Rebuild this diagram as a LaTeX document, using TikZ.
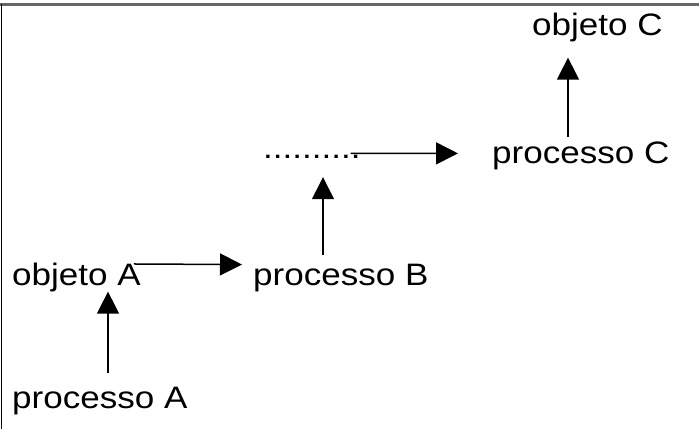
\documentclass[tikz,border=0pt]{standalone}
\usepackage{fontspec}
\setmainfont{Liberation Sans}[FakeStretch=1.13]
\usetikzlibrary{calc,arrows.meta}
\tikzset{
  lbl/.style={anchor=base west,inner sep=0pt,font=\fontsize{31}{36}\selectfont},
  arr/.style={-{Triangle[length=22pt,width=22pt]},line width=1.5pt}
}

\begin{document}
\begin{tikzpicture}[x=1pt,y=-1pt]
\useasboundingbox (0,0) rectangle (699,429);
% frame
\draw[black!60,line width=3pt] (0,4)--(699,4);
\draw[line width=1pt] (1,4)--(1,429);
% labels
\node[lbl] (oC) at (532,35) {objeto C};
\node[lbl] (pC) at (492,163) {processo C};
\node[lbl] (dots) at (263,158) {..........};
\node[lbl] (pB) at (253,285) {processo B};
\node[lbl] (oA) at (12,285) {objeto A};
\node[lbl] (pA) at (12,408) {processo A};
% arrows
\draw[arr] ($(pA.north west)+(96,-13)$)--($(oA.south west)+(96,0)$);
\draw[arr] ($(oA.east)+(-7,-13)$)--($(pB.west)+(-11,-13)$);
\draw[arr] ($(pB.north west)+(70,-8)$)--($(dots.south west)+(60,19)$);
\draw[arr] ($(dots.east)+(-10,-3)$)--($(pC.west)+(-34,-2)$);
\draw[arr] ($(pC.north west)+(76,-4)$)--($(oC.south west)+(36,16)$);
\end{tikzpicture}
\end{document}
